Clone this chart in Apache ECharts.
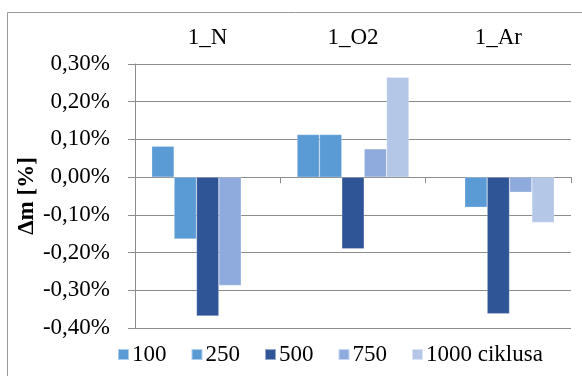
<!DOCTYPE html>
<html>
<head>
<meta charset="utf-8">
<script src="https://cdn.jsdelivr.net/npm/echarts@6/dist/echarts.min.js"></script>
<style>html,body{margin:0;padding:0;background:#fff}#c{width:582px;height:376px}</style>
</head>
<body>
<div id="c"></div>
<script>
var categories = ['1_N', '1_O2', '1_Ar'];
var seriesNames = ['100', '250', '500', '750', '1000 ciklusa'];
var s100 = [0.082, 0.113, null];
var s250 = [-0.164, 0.113, -0.080];
var s500 = [-0.368, -0.190, -0.362];
var s750 = [-0.287, 0.075, -0.040];
var s1000 = [null, 0.265, -0.120];
var colors = ['#5B9BD5', '#5B9BD5', '#2F5597', '#8FAADC', '#B4C7E7'];
var yMin = -0.4, yMax = 0.3, yStep = 0.1;

var font = 'Liberation Serif';
var fs = 23;
var values = [s100, s250, s500, s750, s1000];
var chart = echarts.init(document.getElementById('c'));
var series = seriesNames.map(function (n, i) {
  return {
    name: n, type: 'bar', xAxisIndex: 1, data: values[i],
    barGap: '0%', barCategoryGap: '23%',
    itemStyle: { color: colors[i], borderColor: 'rgba(255,255,255,0.5)', borderWidth: 0.5 }
  };
});
chart.setOption({
  animation: false,
  textStyle: { fontFamily: font },
  graphic: [{
    type: 'rect', left: 5, top: 10, z: -1,
    shape: { width: 620, height: 420 },
    style: { fill: 'none', stroke: '#9a9a9a', lineWidth: 1 }
  }],
  grid: { left: 135, right: 11, top: 64, bottom: 48 },
  legend: {
    data: seriesNames, left: 112, top: 338, icon: 'rect',
    itemWidth: 11, itemHeight: 11, itemGap: 24,
    textStyle: { fontFamily: font, fontSize: fs, color: '#000', padding: [0, 0, 0, -2] }
  },
  xAxis: [{
    type: 'category', data: categories, position: 'top',
    axisLine: { show: false, onZero: false }, axisTick: { show: false },
    axisLabel: { fontFamily: font, fontSize: fs, color: '#000', margin: 15 }
  }, {
    type: 'category', data: categories, position: 'bottom',
    axisLine: { show: true, onZero: true, lineStyle: { color: '#8c8c8c', width: 1 } },
    axisTick: { show: true, length: 6, lineStyle: { color: '#8c8c8c' } },
    axisLabel: { show: false }
  }],
  yAxis: {
    type: 'value', min: yMin, max: yMax, interval: yStep,
    name: 'Δm [%]', nameLocation: 'middle', nameGap: 96, nameRotate: 90,
    nameMoveOverlap: false,
    nameTextStyle: { fontFamily: font, fontSize: fs, fontWeight: 'bold', color: '#000' },
    axisLine: { show: true, lineStyle: { color: '#8c8c8c' } },
    axisTick: { show: true, length: 7, lineStyle: { color: '#8c8c8c' } },
    splitLine: { show: true, lineStyle: { color: '#8c8c8c', width: 1 } },
    axisLabel: {
      fontFamily: font, fontSize: fs, color: '#000', margin: 25,
      formatter: function (v) { return (Math.round(v * 100) / 100).toFixed(2).replace('.', ',') + '%'; }
    }
  },
  series: series
});
</script>
</body>
</html>
